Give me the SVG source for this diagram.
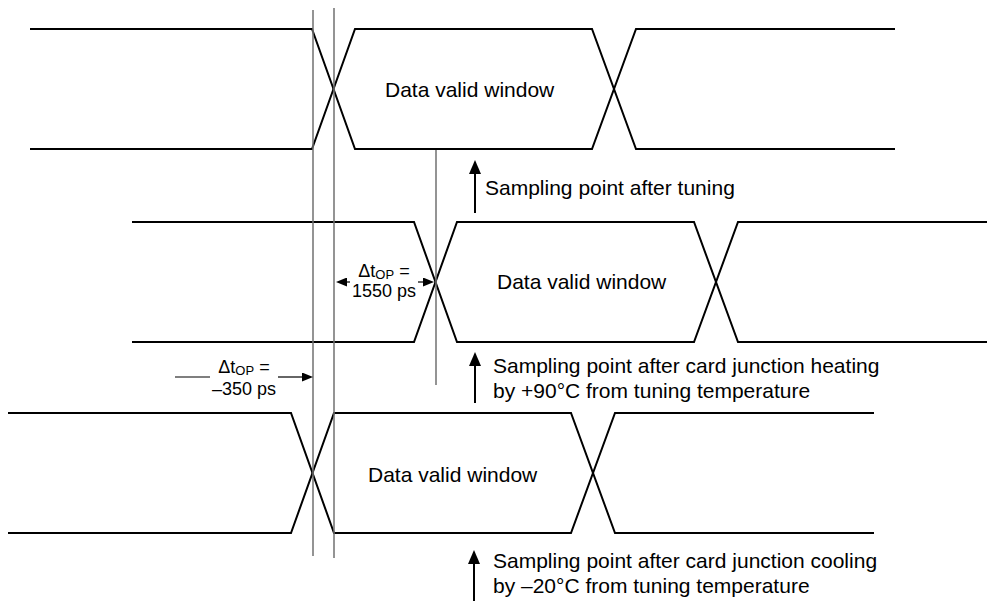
<svg xmlns="http://www.w3.org/2000/svg" width="987" height="601" viewBox="0 0 987 601">
  <style>
    .wave { fill: none; stroke: #000; stroke-width: 2; stroke-linejoin: miter; }
    .guide { stroke: #707070; stroke-width: 1.5; fill: none; }
    .arr { stroke: #000; stroke-width: 2; fill: none; }
    .darr { stroke: #000; stroke-width: 1.2; fill: none; }
    .txt { font-family: "Liberation Sans", Arial, sans-serif; font-size: 21px; fill: #000; }
    .lbl { font-family: "Liberation Sans", Arial, sans-serif; font-size: 18px; fill: #000; text-anchor: middle; }
  </style>
  <defs>
    <marker id="bigHead" markerUnits="userSpaceOnUse" markerWidth="14" markerHeight="12" refX="1" refY="6" orient="auto" viewBox="0 0 14 12">
      <path d="M0,0 L14,6 L0,12 z" fill="#000"/>
    </marker>
    <marker id="smallHead" markerUnits="userSpaceOnUse" markerWidth="11" markerHeight="9" refX="1" refY="4.5" orient="auto" viewBox="0 0 11 9">
      <path d="M0,0 L11,4.5 L0,9 z" fill="#000"/>
    </marker>
  </defs>
  <rect width="987" height="601" fill="#fff"/>

  <g id="waveform-top">
    <path class="wave" d="M30,29 H312 L355,149 H592 L636,29 H895"/>
    <path class="wave" d="M30,149 H312 L355,29 H592 L636,149 H895"/>
    <text class="txt" x="385" y="97">Data valid window</text>
  </g>

  <g id="waveform-middle">
    <path class="wave" d="M132,222 H414 L457,342 H694 L738,222 H990"/>
    <path class="wave" d="M132,342 H414 L457,222 H694 L738,342 H990"/>
    <text class="txt" x="497" y="289">Data valid window</text>
  </g>

  <g id="waveform-bottom">
    <path class="wave" d="M8,413 H291 L334,533 H571 L615,413 H874"/>
    <path class="wave" d="M8,533 H291 L334,413 H571 L615,533 H874"/>
    <text class="txt" x="368" y="482">Data valid window</text>
  </g>

  <g id="label-sampling-tuning">
    <text class="txt" x="485" y="195">Sampling point after tuning</text>
  </g>
  <g id="label-sampling-heating">
    <text class="txt" x="493" y="373">Sampling point after card junction heating</text>
    <text class="txt" x="493" y="398">by +90°C from tuning temperature</text>
  </g>
  <g id="label-sampling-cooling">
    <text class="txt" x="493" y="568">Sampling point after card junction cooling</text>
    <text class="txt" x="493" y="593">by –20°C from tuning temperature</text>
  </g>

  <g id="label-delta-heating">
    <text class="lbl" x="384" y="277">Δt<tspan font-size="13" dy="2">OP</tspan><tspan dy="-2"> =</tspan></text>
    <text class="lbl" x="384" y="297">1550 ps</text>
  </g>
  <g id="label-delta-cooling">
    <text class="lbl" x="244" y="373">Δt<tspan font-size="13" dy="2">OP</tspan><tspan dy="-2"> =</tspan></text>
    <text class="lbl" x="244" y="395">–350 ps</text>
  </g>

  <g id="connectors">
    <line class="guide" x1="313" y1="10" x2="313" y2="556"/>
    <line class="guide" x1="334" y1="8" x2="334" y2="558"/>
    <line class="guide" x1="436" y1="150" x2="436" y2="385"/>

    <line class="arr" x1="475" y1="213" x2="475" y2="173" marker-end="url(#bigHead)"/>
    <line class="arr" x1="475" y1="403" x2="475" y2="365" marker-end="url(#bigHead)"/>
    <line class="arr" x1="474" y1="601" x2="474" y2="563" marker-end="url(#bigHead)"/>

    <line class="darr" x1="350" y1="282" x2="346" y2="282" marker-end="url(#smallHead)"/>
    <line class="darr" x1="418" y1="282" x2="424" y2="282" marker-end="url(#smallHead)"/>
    <line class="darr" x1="175" y1="377" x2="210" y2="377"/>
    <line class="darr" x1="278" y1="377" x2="303" y2="377" marker-end="url(#smallHead)"/>
  </g>
</svg>
